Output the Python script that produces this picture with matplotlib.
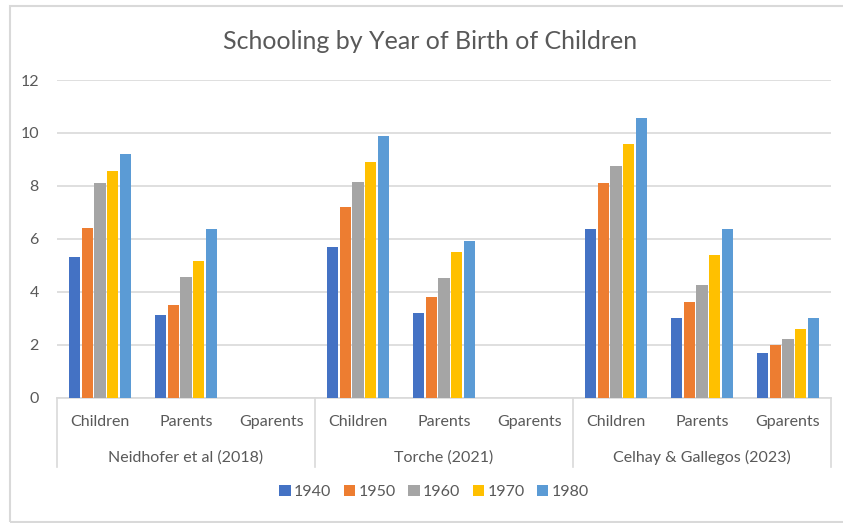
import numpy as np
import matplotlib.pyplot as plt
from matplotlib.patches import Rectangle
from matplotlib.transforms import blended_transform_factory

plt.rcParams['font.family'] = ['Lato', 'DejaVu Sans']

studies = ['Neidhofer et al (2018)', 'Torche (2021)', 'Celhay & Gallegos (2023)']
generations = ['Children', 'Parents', 'Gparents']
years = ['1940', '1950', '1960', '1970', '1980']
colors = ['#4472C4', '#ED7D31', '#A5A5A5', '#FFC000', '#5B9BD5']

# rows = study/generation (9 categories), nan where no bar
y1940 = [5.3, 3.1, np.nan, 5.7, 3.2, np.nan, 6.35, 3.0, 1.7]
y1950 = [6.4, 3.5, np.nan, 7.2, 3.8, np.nan, 8.1, 3.6, 2.0]
y1960 = [8.1, 4.55, np.nan, 8.15, 4.5, np.nan, 8.75, 4.25, 2.2]
y1970 = [8.55, 5.15, np.nan, 8.9, 5.5, np.nan, 9.6, 5.4, 2.6]
y1980 = [9.2, 6.35, np.nan, 9.9, 5.9, np.nan, 10.55, 6.35, 3.0]
series = [y1940, y1950, y1960, y1970, y1980]

grey = '#595959'
line_c = '#D9D9D9'

fig = plt.figure(figsize=(8.43, 5.23), dpi=100)
ax = fig.add_axes([57/843, 1 - 397.5/523, (831 - 57)/843, (397.5 - 80)/523])

x = np.arange(len(studies) * len(generations))
slot = 0.149
for i, (vals, c) in enumerate(zip(series, colors)):
    ax.bar(x + (i - 2) * slot, vals, width=0.13, color=c, label=years[i], zorder=3)

ax.set_ylim(0, 12)
ax.set_xlim(-0.5, len(x) - 0.5)
ax.set_yticks(range(0, 13, 2))
ax.yaxis.grid(True, color=line_c, linewidth=1.2, zorder=0)
ax.tick_params(axis='y', length=0, pad=13, labelsize=11.5, labelcolor=grey)
ax.set_xticks([])
for s in ['top', 'right', 'left']:
    ax.spines[s].set_visible(False)
ax.spines['bottom'].set_color(line_c)
ax.spines['bottom'].set_linewidth(1.2)

# multi-level category axis
tr = blended_transform_factory(ax.transData, ax.transAxes)
for k, gen in enumerate(generations * len(studies)):
    ax.text(x[k], -0.078, gen, transform=tr, ha='center', va='center',
            fontsize=11.5, color=grey)
for j, st in enumerate(studies):
    ax.text(j * 3 + 1, -0.19, st, transform=tr, ha='center', va='center',
            fontsize=11.5, color=grey)
for b in np.arange(len(studies) + 1) * 3 - 0.5:
    ax.plot([b, b], [0, -0.22], transform=tr, color=line_c, lw=1.2, clip_on=False)

fig.text(0.51, 0.92, 'Schooling by Year of Birth of Children', ha='center',
         va='center', fontsize=18, color=grey)

fig.legend(loc='center', bbox_to_anchor=(0.515, 0.059), ncol=5, frameon=False,
           fontsize=11.5, labelcolor=grey, handlelength=0.7, handleheight=0.7,
           handletextpad=0.2, columnspacing=0.8)

fig.patches.append(Rectangle((10/843, 1.5/523), 1.2, 1 - 7.5/523, transform=fig.transFigure,
                             fill=False, edgecolor=line_c, linewidth=1.5))

fig.savefig('out.png', dpi=100)
